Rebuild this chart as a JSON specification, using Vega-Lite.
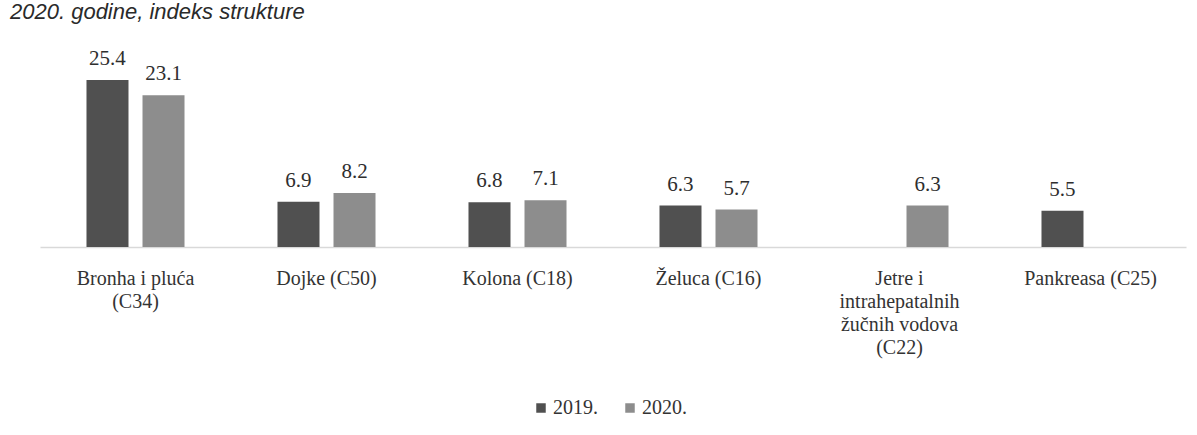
{
  "$schema": "https://vega.github.io/schema/vega-lite/v6.json",
  "width": 1146,
  "height": 184,
  "autosize": {"type": "none"},
  "padding": {"left": 40, "top": 63, "right": 11, "bottom": 188},
  "background": "white",
  "config": {"view": {"stroke": null}},
  "title": {
    "text": "2020. godine, indeks strukture",
    "anchor": "start",
    "frame": "group",
    "font": "Liberation Sans",
    "fontSize": 22,
    "fontStyle": "italic",
    "fontWeight": "normal",
    "color": "#2a2a2a",
    "dx": -30,
    "offset": 24
  },
  "data": {
    "values": [
      {"kategorija": "Bronha i pluća|(C34)", "godina": "2019.", "vrijednost": 25.4},
      {"kategorija": "Bronha i pluća|(C34)", "godina": "2020.", "vrijednost": 23.1},
      {"kategorija": "Dojke (C50)", "godina": "2019.", "vrijednost": 6.9},
      {"kategorija": "Dojke (C50)", "godina": "2020.", "vrijednost": 8.2},
      {"kategorija": "Kolona (C18)", "godina": "2019.", "vrijednost": 6.8},
      {"kategorija": "Kolona (C18)", "godina": "2020.", "vrijednost": 7.1},
      {"kategorija": "Želuca (C16)", "godina": "2019.", "vrijednost": 6.3},
      {"kategorija": "Želuca (C16)", "godina": "2020.", "vrijednost": 5.7},
      {"kategorija": "Jetre i|intrahepatalnih|žučnih vodova|(C22)", "godina": "2020.", "vrijednost": 6.3},
      {"kategorija": "Pankreasa (C25)", "godina": "2019.", "vrijednost": 5.5}
    ]
  },
  "encoding": {
    "x": {
      "field": "kategorija",
      "type": "nominal",
      "sort": null,
      "scale": {"paddingInner": 0, "paddingOuter": 0},
      "axis": {
        "title": null,
        "labelAngle": 0,
        "labelExpr": "split(datum.label, '|')",
        "labelFont": "Liberation Serif",
        "labelFontSize": 20,
        "labelColor": "#333333",
        "labelLineHeight": 23,
        "labelPadding": 21,
        "labelBaseline": "top",
        "ticks": false,
        "domainColor": "#d9d9d9",
        "domainWidth": 1.5,
        "labelLimit": 0
      }
    },
    "xOffset": {
      "field": "godina",
      "type": "nominal",
      "scale": {"domain": ["2019.", "2020."], "paddingInner": 0.25, "paddingOuter": 0.83}
    },
    "y": {
      "field": "vrijednost",
      "type": "quantitative",
      "scale": {"domain": [0, 28]},
      "axis": null
    }
  },
  "layer": [
    {
      "mark": {"type": "bar"},
      "encoding": {
        "color": {
          "field": "godina",
          "type": "nominal",
          "scale": {"domain": ["2019.", "2020."], "range": ["#505050", "#8d8d8d"]},
          "legend": {
            "title": null,
            "orient": "none",
            "direction": "horizontal",
            "legendX": 491,
            "legendY": 335,
            "symbolType": "square",
            "symbolSize": 90,
            "labelFont": "Liberation Serif",
            "labelFontSize": 20,
            "labelColor": "#333333",
            "labelOffset": 2,
            "columnPadding": 22
          }
        }
      }
    },
    {
      "mark": {
        "type": "text",
        "baseline": "alphabetic",
        "dy": -15,
        "font": "Liberation Serif",
        "fontSize": 21,
        "color": "#2e2e2e"
      },
      "encoding": {
        "text": {"field": "vrijednost", "type": "quantitative", "format": ".1f"}
      }
    }
  ]
}
